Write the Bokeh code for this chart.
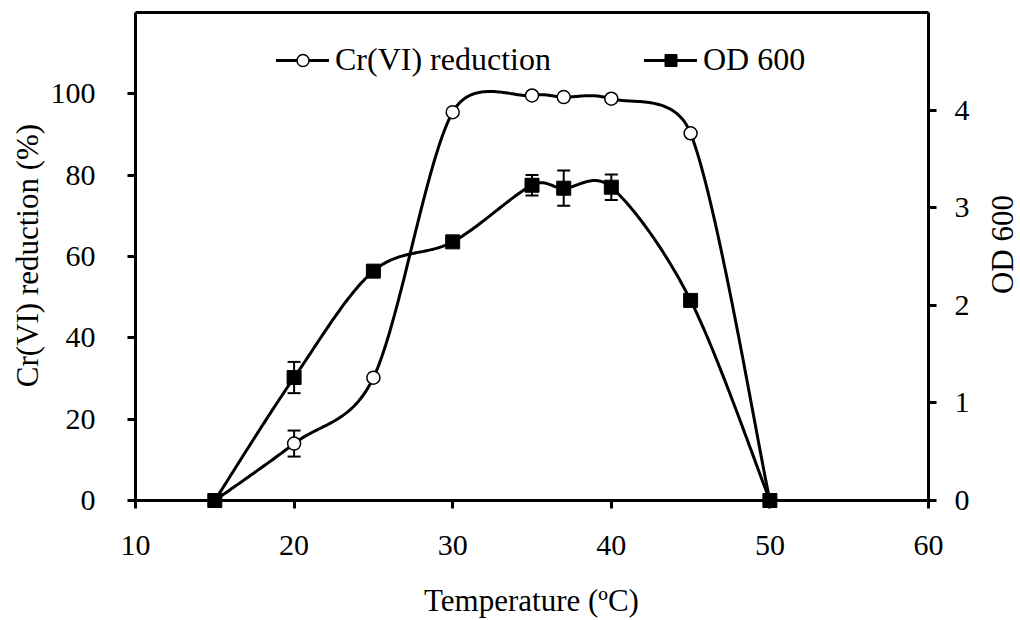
import math
import numpy as np
from bokeh.plotting import figure
from bokeh.models import (Range1d, LinearAxis, FixedTicker, ColumnDataSource,
                          Whisker, TeeHead, Legend, LegendItem, Label)
from bokeh.embed import file_html
from bokeh.resources import INLINE

# Temperature series (degrees C)
temperature = [15, 20, 25, 30, 35, 37, 40, 45, 50]
# Cr(VI) reduction (%) and its error
cr_reduction = [0, 14.0, 30.2, 95.5, 99.6, 99.2, 98.8, 90.3, 0]
cr_error = [0, 3.2, 0, 0, 0, 0, 0, 0, 0]
# Optical density at 600 nm and its error
od600 = [0, 1.26, 2.35, 2.65, 3.23, 3.20, 3.21, 2.05, 0]
od_error = [0, 0.16, 0, 0, 0.105, 0.18, 0.13, 0, 0]

x_ticks = [10, 20, 30, 40, 50, 60]
left_ticks = [0, 20, 40, 60, 80, 100]
right_ticks = [0, 1, 2, 3, 4]

FONT = "Liberation Serif"
W, H = 1020, 620
# pixel box of the plotting area; the axes are pinned to its edges
BOX_L, BOX_R, BOX_T, BOX_B = 135, 928, 12, 500
XMIN, XMAX = 10, 60
YMIN, YMAX = 0, 120
Y2MIN, Y2MAX = 0, 5

kx = (BOX_R - BOX_L) / (XMAX - XMIN)
ky_left = (BOX_B - BOX_T) / (YMAX - YMIN)
ky_right = (BOX_B - BOX_T) / (Y2MAX - Y2MIN)


def smooth_curve(xs, ys, kx, ky, n=40):
    """Smoothed Bezier line through the points (spreadsheet-style), built in
    screen proportions; control arms are limited to half the segment length."""
    P = np.column_stack([np.asarray(xs, float) * kx, np.asarray(ys, float) * ky])
    out = []
    t = np.linspace(0, 1, n)[:, None]
    for i in range(len(P) - 1):
        p0 = P[i - 1] if i > 0 else P[i]
        p1, p2 = P[i], P[i + 1]
        p3 = P[i + 2] if i + 2 < len(P) else P[i + 1]
        d12 = np.hypot(*(p2 - p1))
        d02 = np.hypot(*(p2 - p0))
        d13 = np.hypot(*(p3 - p1))
        f = 1 / 6 if d02 / 6 < d12 / 2 else d12 / d02 / 2
        g = 1 / 6 if d13 / 6 < d12 / 2 else d12 / d13 / 2
        c1 = p1 + f * (p2 - p0)
        c2 = p2 - g * (p3 - p1)
        B = ((1 - t) ** 3) * p1 + 3 * ((1 - t) ** 2) * t * c1 + 3 * (1 - t) * t ** 2 * c2 + t ** 3 * p2
        out.append(B if i == 0 else B[1:])
    B = np.vstack(out)
    return B[:, 0] / kx, B[:, 1] / ky


# the frame fills the page; axes are placed at fixed data locations
x_range = Range1d(XMIN - BOX_L / kx, XMAX + (W - BOX_R) / kx)
y_range = Range1d(YMIN - (H - BOX_B) / ky_left, YMAX + BOX_T / ky_left)
od_range = Range1d(Y2MIN - (H - BOX_B) / ky_right, Y2MAX + BOX_T / ky_right)

p = figure(width=W, height=H, output_backend="svg", toolbar_location=None,
           x_range=x_range, y_range=y_range, x_axis_location=None, y_axis_location=None,
           min_border=0, min_border_left=0, min_border_right=0, min_border_top=0,
           min_border_bottom=0)
p.extra_y_ranges = {"od": od_range}
p.grid.visible = False
p.background_fill_color = "white"
p.border_fill_color = "white"
p.outline_line_color = None


def style_axis(ax, standoff_label):
    ax.axis_line_width = 3
    ax.axis_line_color = "black"
    ax.major_tick_line_width = 3
    ax.major_tick_out = 8
    ax.major_tick_in = 0
    ax.minor_tick_line_color = None
    ax.major_label_text_font = FONT
    ax.major_label_text_font_size = "30px"
    ax.major_label_text_color = "black"
    ax.major_label_standoff = standoff_label


xa = LinearAxis(ticker=FixedTicker(ticks=x_ticks), fixed_location=YMIN, bounds=(XMIN, XMAX))
style_axis(xa, 27)
p.add_layout(xa, "below")

ya = LinearAxis(ticker=FixedTicker(ticks=left_ticks), fixed_location=XMIN, bounds=(YMIN, YMAX))
style_axis(ya, 32)
p.add_layout(ya, "left")

ya2 = LinearAxis(y_range_name="od", ticker=FixedTicker(ticks=right_ticks), fixed_location=XMAX,
                 bounds=(Y2MIN, Y2MAX))
style_axis(ya2, 18)
p.add_layout(ya2, "right")

# top border of the plotting box
top = LinearAxis(ticker=FixedTicker(ticks=[]), fixed_location=YMAX, bounds=(XMIN, XMAX),
                 axis_line_width=3, axis_line_color="black", major_tick_out=0, major_tick_in=0,
                 minor_tick_line_color=None, major_label_standoff=0)
p.add_layout(top, "above")

# axis titles
title_style = dict(x_units="screen", y_units="screen", text_font=FONT,
                   text_font_size="31px", text_color="black",
                   text_align="center", text_baseline="middle")
p.add_layout(Label(text="Temperature (\u00baC)", x=531, y=H - 600, **title_style))
p.add_layout(Label(text="Cr(VI) reduction (%)", x=27, y=H - 255, angle=math.pi / 2,
                   **title_style))
p.add_layout(Label(text="OD 600", x=1002, y=H - 244, angle=math.pi / 2, **title_style))

# Cr(VI) reduction curve
cx, cy = smooth_curve(temperature, cr_reduction, kx, ky_left)
cr_line = p.line(cx, cy, line_color="black", line_width=3, line_join="round", line_cap="round")

# OD 600 curve
ox, oy = smooth_curve(temperature, od600, kx, ky_right)
od_line = p.line(ox, oy, line_color="black", line_width=3, line_join="round", line_cap="round",
                 y_range_name="od")

# error bars
cr_src = ColumnDataSource(dict(x=[t for t, e in zip(temperature, cr_error) if e > 0],
                               lo=[v - e for v, e in zip(cr_reduction, cr_error) if e > 0],
                               hi=[v + e for v, e in zip(cr_reduction, cr_error) if e > 0]))
od_src = ColumnDataSource(dict(x=[t for t, e in zip(temperature, od_error) if e > 0],
                               lo=[v - e for v, e in zip(od600, od_error) if e > 0],
                               hi=[v + e for v, e in zip(od600, od_error) if e > 0]))
for src, rng in ((cr_src, "default"), (od_src, "od")):
    w = Whisker(base="x", lower="lo", upper="hi", source=src, line_width=2, line_color="black",
                upper_head=TeeHead(size=13, line_width=2, line_color="black"),
                lower_head=TeeHead(size=13, line_width=2, line_color="black"))
    w.y_range_name = rng
    p.add_layout(w)

cr_pts = p.scatter(temperature, cr_reduction, marker="circle", size=13, fill_color="white",
                   line_color="black", line_width=1.5)
od_pts = p.scatter(temperature, od600, marker="square", size=14, fill_color="black",
                   line_color="black", y_range_name="od")

legend = Legend(items=[LegendItem(label="Cr(VI) reduction", renderers=[cr_line, cr_pts]),
                       LegendItem(label="OD 600", renderers=[od_line, od_pts])],
                orientation="horizontal", location=(276, 542),
                glyph_width=53, glyph_height=30, label_standoff=6, spacing=93,
                padding=0, margin=0, border_line_color=None, background_fill_alpha=0,
                label_text_font=FONT, label_text_font_size="32px", label_text_color="black")
p.add_layout(legend, "center")

open("out.html", "w").write(file_html(p, INLINE))
